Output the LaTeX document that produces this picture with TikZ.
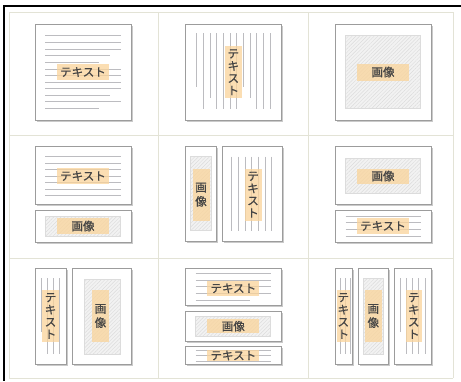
\documentclass[tikz,border=0pt]{standalone}
\usepackage{fontspec}
\newfontfamily\jp[FakeBold=0.7]{Noto Sans CJK JP}
\usetikzlibrary{patterns.meta}
\definecolor{gridc}{HTML}{E3E3D6}
\definecolor{boxc}{HTML}{9C9C9C}
\definecolor{shad}{HTML}{CACACA}
\definecolor{linec}{HTML}{BCBCC0}
\definecolor{hlc}{HTML}{FAD49A}
\definecolor{txt}{HTML}{444444}
\definecolor{imgbg}{HTML}{F2F2F2}
\definecolor{hatchc}{HTML}{DCDCDC}
\tikzset{
  pagebox/.style={draw=boxc, fill=white, line width=1pt},
  pageshadow/.style={fill=shad},
  tline/.style={draw=linec, line width=0.9pt},
  imghatch/.style={pattern={Lines[angle=45,distance=2.6pt,line width=0.45pt]}, pattern color=hatchc},
  hlabel/.style={fill=hlc, fill opacity=0.75, text opacity=1, text=txt, inner sep=0pt,
    font=\jp\fontsize{11.5}{11.5}\selectfont, minimum width=52pt, minimum height=16pt},
  vlabel/.style={fill=hlc, fill opacity=0.75, text opacity=1, text=txt, inner sep=0pt,
    font=\jp\fontsize{11.5}{12.3}\selectfont, align=center, minimum width=17pt, minimum height=52pt},
  gridline/.style={draw=gridc, line width=1pt},
}
\newcommand\pg[4]{\fill[pageshadow] (#1+1.6,#2+1.6) rectangle (#3+1.6,#4+1.6);
  \draw[pagebox] (#1,#2) rectangle (#3,#4);}
\newcommand\img[4]{\fill[imgbg] (#1,#2) rectangle (#3,#4);
  \fill[imghatch] (#1,#2) rectangle (#3,#4);
  \draw[draw=hatchc, line width=0.5pt] (#1,#2) rectangle (#3,#4);}
\begin{document}
\begin{tikzpicture}[x=1pt,y=-1pt]
\useasboundingbox (0,0) rectangle (461,381);
\fill[white] (0,0) rectangle (461,381);
% grid
\foreach \x in {9,158,308,453} \draw[gridline] (\x,12) -- (\x,378);
\foreach \y in {12,135,258,378} \draw[gridline] (9,\y) -- (453,\y);
% outer black frame (top and left)
\draw[black, line width=2pt] (3,6) -- (461,6);
\draw[black, line width=2pt] (4,5) -- (4,381);

% ---- cell 1,1
\pg{35}{24}{131}{120}
\foreach \y/\e in {35.7/121, 42.3/121, 49/121, 55.7/110, 62.3/99, 69/121, 75.5/121, 82/121, 88.5/121, 95/110, 101.5/121, 108/99}
  \draw[tline] (45,\y) -- (\e,\y);
\node[hlabel] (t11) at (83,72) {テキスト};

% ---- cell 1,2
\pg{185}{24}{281.7}{120}
\foreach \x/\e in {196.7/87, 203.3/109, 210/98, 216.7/109, 223.3/109, 230/109, 236.7/109, 243.3/87, 250/98, 256.7/109, 263.3/109, 270/109}
  \draw[tline] (\x,33) -- (\x,\e);
\node[vlabel, minimum width=16.5pt] (t12) at (233.3,72.3) {テ\\キ\\ス\\ト};

% ---- cell 1,3
\pg{335}{24}{431.7}{120}
\img{345.7}{35.7}{420.7}{108.3}
\node[hlabel, minimum height=17pt] (i13) at (383,72) {画像};

% ---- cell 2,1
\pg{35}{146}{131}{204}
\foreach \y in {156.7,163.2,169.7,176.2,182.7,189.2,195.7}
  \draw[tline] (45,\y) -- (121,\y);
\node[hlabel] (t21) at (83,176) {テキスト};
\pg{35}{210}{131}{242.7}
\img{45.7}{216}{120.7}{236.7}
\node[hlabel, minimum height=15.5pt] (i21) at (83,226) {画像};

% ---- cell 2,2
\pg{185}{146}{216.7}{241.7}
\img{190}{156.7}{211.7}{230.7}
\node[vlabel, font=\jp\fontsize{11.5}{14}\selectfont] (i22) at (201,194.7) {画\\像};
\pg{222.7}{146}{282.7}{241.7}
\foreach \x in {231.7,238.3,245,251.7,258.3,265,271.7}
  \draw[tline] (\x,156.7) -- (\x,230.7);
\node[vlabel] (t22) at (253,194.7) {テ\\キ\\ス\\ト};

% ---- cell 2,3
\pg{335}{146}{431.7}{204}
\img{345.7}{158.3}{420.7}{193.3}
\node[hlabel, minimum height=15pt] (i23) at (383,176) {画像};
\pg{335}{210}{431.7}{242.7}
\foreach \y in {216,222.7,229.3,236}
  \draw[tline] (345.7,\y) -- (420.7,\y);
\node[hlabel, minimum height=15.5pt] (t23) at (383,226) {テキスト};

% ---- cell 3,1
\pg{35}{268.3}{66.7}{364.3}
\draw[tline] (41.7,278.3) -- (41.7,331.7);
\foreach \x in {47.3,53.3,59.3}
  \draw[tline] (\x,278.3) -- (\x,354.3);
\node[vlabel] (t31) at (50.5,316) {テ\\キ\\ス\\ト};
\pg{72.7}{268.3}{131}{364.3}
\img{84}{279}{120}{354}
\node[vlabel, font=\jp\fontsize{11.5}{14}\selectfont] (i31) at (100.5,316) {画\\像};

% ---- cell 3,2
\pg{185}{268.3}{281.7}{305}
\foreach \y/\e in {273.3/270.7, 280/270.7, 286.7/270.7, 293.3/270.7, 300/250}
  \draw[tline] (195.7,\y) -- (\e,\y);
\node[hlabel, minimum height=15pt] (t32a) at (233.3,288.3) {テキスト};
\pg{185}{311}{281.7}{341}
\img{195.7}{316}{270.7}{336.7}
\node[hlabel, minimum height=14.5pt] (i32) at (233.3,326.2) {画像};
\pg{185}{346.7}{281.7}{364.3}
\foreach \y in {350,355.5,361}
  \draw[tline] (195.7,\y) -- (270.7,\y);
\node[hlabel, minimum height=11pt] (t32b) at (233.3,355.5) {テキスト};

% ---- cell 3,3
\pg{335}{268.3}{352.3}{364.3}
\foreach \x in {340,345,350}
  \draw[tline] (\x,278.3) -- (\x,354.3);
\node[vlabel, minimum width=13.5pt] (t33a) at (343.3,316) {テ\\キ\\ス\\ト};
\pg{358.3}{268.3}{388.3}{364.3}
\img{363.3}{278.3}{383.3}{354.3}
\node[vlabel, minimum width=16.5pt, font=\jp\fontsize{11.5}{14}\selectfont] (i33) at (373.3,316) {画\\像};
\pg{394.3}{268.3}{431}{364.3}
\draw[tline] (400,278.3) -- (400,331.7);
\foreach \x in {406,412.7,418.3,425}
  \draw[tline] (\x,278.3) -- (\x,354.3);
\node[vlabel, minimum width=15.5pt] (t33b) at (413.8,316) {テ\\キ\\ス\\ト};
\end{tikzpicture}
\end{document}
